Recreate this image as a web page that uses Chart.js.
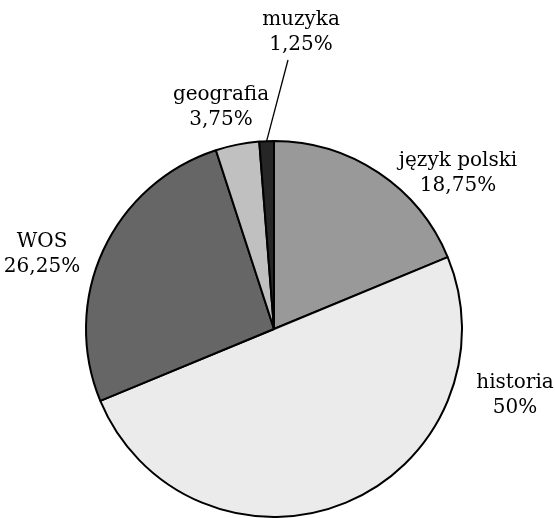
<!DOCTYPE html>
<html>
<head>
<meta charset="utf-8">
<script src="https://cdn.jsdelivr.net/npm/chart.js@4/dist/chart.umd.min.js"></script>
<style>
  html, body { margin: 0; padding: 0; background: #fff; }
  #wrap { width: 555px; height: 518px; }
</style>
</head>
<body>
<div id="wrap"><canvas id="chart"></canvas></div>
<script>
"use strict";

const subjects = ["język polski", "historia", "WOS", "geografia", "muzyka"];
const shares = [18.75, 50, 26.25, 3.75, 1.25];
const shareLabels = ["18,75%", "50%", "26,25%", "3,75%", "1,25%"];
const sliceColors = ["#999999", "#ebebeb", "#666666", "#c0c0c0", "#262626"];

// where each label sits, as offset of its first baseline from the pie centre
const labelOffsets = [[184, -163], [241, 59], [-232, -82], [-53, -229], [27, -304]];
const leaderFrom = [null, null, null, null, [14, -269]];

const labelPlugin = {
  id: "pieLabels",
  afterDatasetsDraw(chart) {
    const ctx = chart.ctx;
    const arcs = chart.getDatasetMeta(0).data;
    ctx.save();
    ctx.fillStyle = "#000";
    ctx.font = "20px 'DejaVu Serif'";
    ctx.textAlign = "center";
    ctx.textBaseline = "alphabetic";
    arcs.forEach((arc, i) => {
      const cx = arc.x, cy = arc.y;
      const off = labelOffsets[i];
      ctx.fillText(subjects[i], cx + off[0], cy + off[1]);
      ctx.fillText(shareLabels[i], cx + off[0], cy + off[1] + 25);
      if (leaderFrom[i]) {
        const mid = (arc.startAngle + arc.endAngle) / 2;
        ctx.beginPath();
        ctx.strokeStyle = "#000";
        ctx.lineWidth = 1.3;
        ctx.moveTo(cx + leaderFrom[i][0], cy + leaderFrom[i][1]);
        ctx.lineTo(cx + Math.cos(mid) * arc.outerRadius, cy + Math.sin(mid) * arc.outerRadius);
        ctx.stroke();
      }
    });
    ctx.restore();
  }
};

new Chart(document.getElementById("chart"), {
  type: "pie",
  data: {
    labels: subjects,
    datasets: [{
      data: shares,
      backgroundColor: sliceColors,
      borderColor: "#000",
      borderWidth: 2
    }]
  },
  options: {
    responsive: true,
    maintainAspectRatio: false,
    animation: false,
    layout: { padding: { top: 140, bottom: 0, left: 0, right: 7 } },
    plugins: {
      legend: { display: false },
      tooltip: { enabled: false }
    }
  },
  plugins: [labelPlugin]
});
</script>
</body>
</html>
